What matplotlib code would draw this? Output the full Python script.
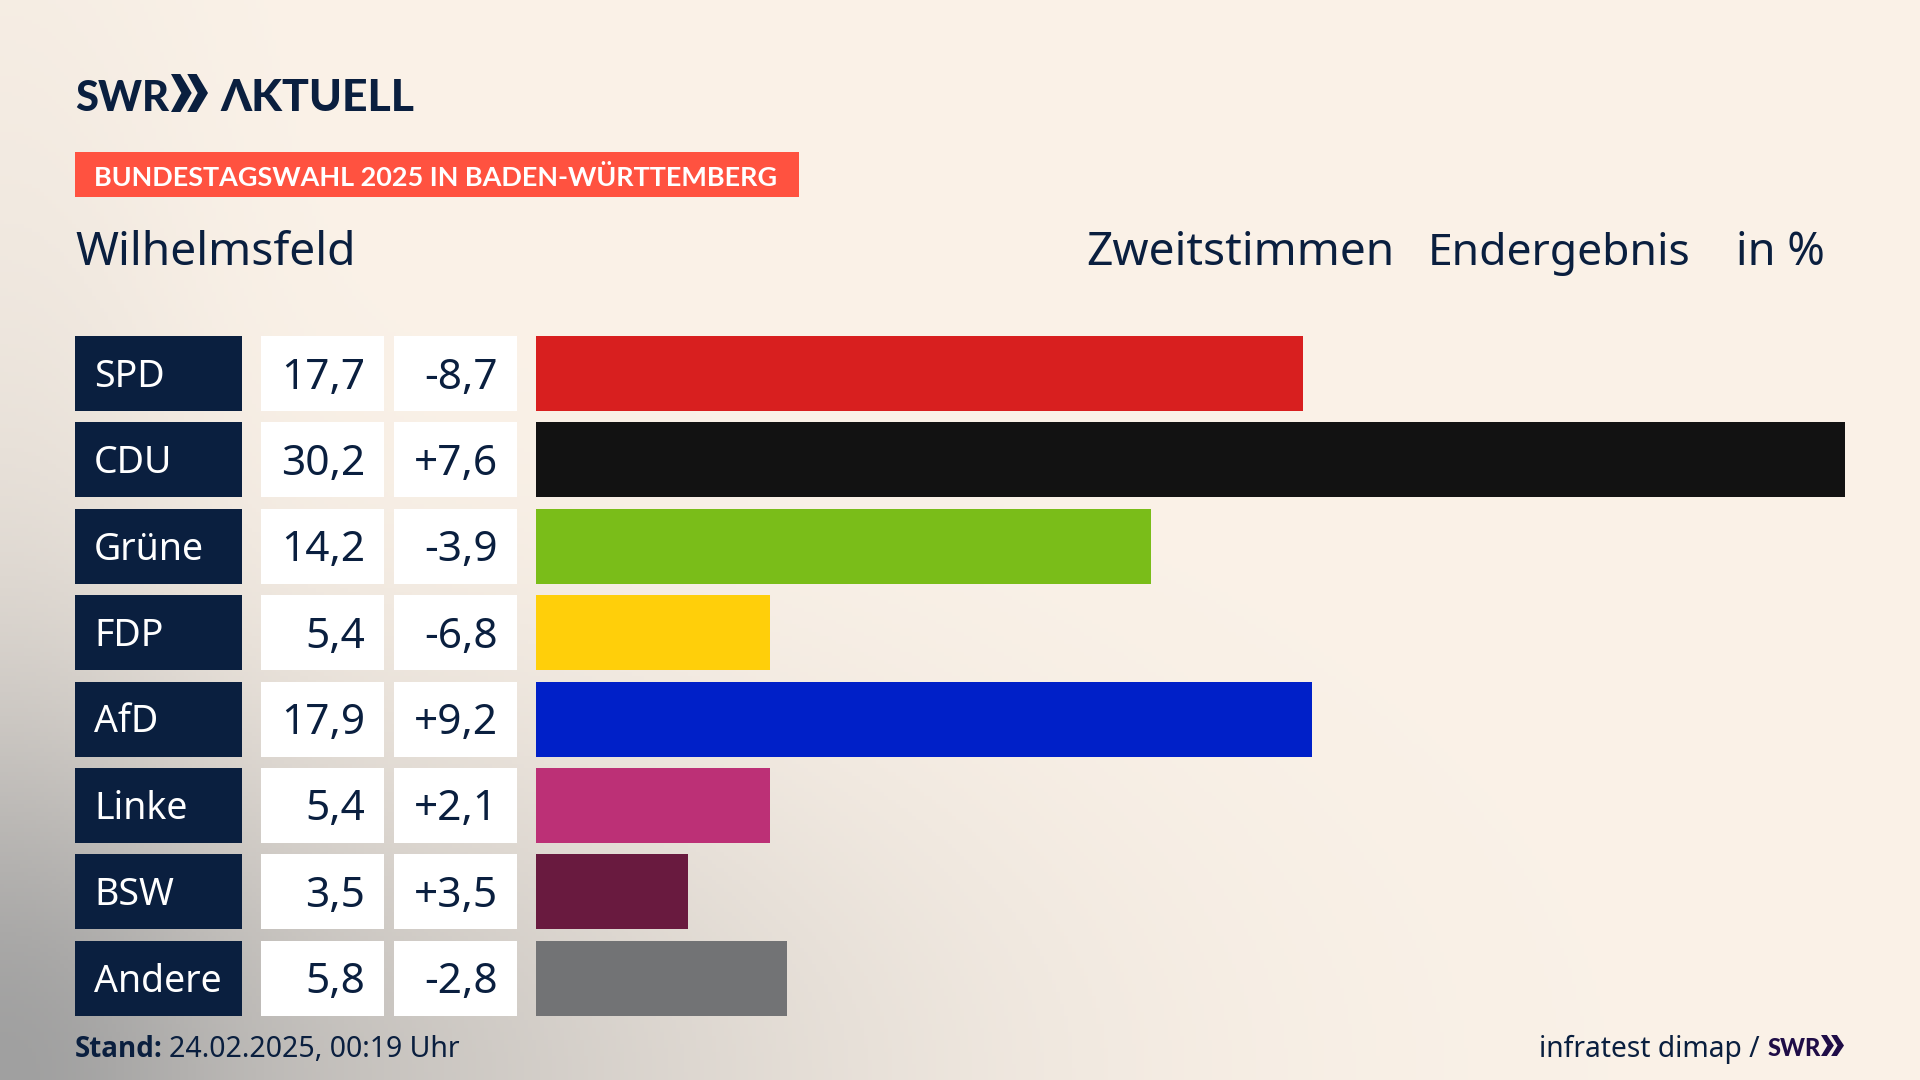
import numpy as np
import matplotlib
matplotlib.use('Agg')
import matplotlib.pyplot as plt
from matplotlib.patches import Rectangle, Polygon

# Данные
parties = ['SPD', 'CDU', 'Grüne', 'FDP', 'AfD', 'Linke', 'BSW', 'Andere']
shares = [17.7, 30.2, 14.2, 5.4, 17.9, 5.4, 3.5, 5.8]
changes = ['-8,7', '+7,6', '-3,9', '-6,8', '+9,2', '+2,1', '+3,5', '-2,8']
colors = ['#D81F1F', '#121212', '#7ABD19', '#FFCF0A', '#0020C8', '#BC3076', '#691A3F', '#727375']

NAVY = '#0A1F3F'
FONT = 'Noto Sans'
HEAVY = 'Lato'

W, H = 1920, 1080
row_top, row_pitch, row_h = 336.1, 86.35, 75.0

fig = plt.figure(figsize=(W / 100, H / 100), dpi=100)

# Фон: кремовый с серым углом снизу слева
bg_ax = fig.add_axes([0, 0, 1, 1])
yy, xx = np.mgrid[0:H:270j, 0:W:480j]
d1 = np.sqrt((xx / 900) ** 2 + ((H - yy) / 420) ** 2)
d2 = np.sqrt((xx / 240) ** 2 + ((H - yy) / 1000) ** 2)
t = np.clip(0.7 * np.exp(-d1 ** 2 * 1.3) + 0.3 * np.exp(-d2 ** 2 * 1.4), 0, 1)[..., None]
cream = np.array([251, 242, 232]) / 255
grey = np.array([160, 160, 160]) / 255
bg_ax.imshow(cream * (1 - t) + grey * t, extent=[0, W, H, 0], aspect='auto')
bg_ax.set_xlim(0, W)
bg_ax.set_ylim(H, 0)
bg_ax.axis('off')

# Столбцы
bar_left, bar_right = 536, 1845
bar_top = row_top
bar_bottom = row_top + 7 * row_pitch + row_h
ax = fig.add_axes([bar_left / W, 1 - bar_bottom / H, (bar_right - bar_left) / W, (bar_bottom - bar_top) / H])
ax.patch.set_alpha(0)
h = row_h / row_pitch
ax.barh(range(len(parties)), shares, height=h, color=colors)
ax.set_xlim(0, max(shares))
ax.set_ylim(len(parties) - 1 + h / 2, -h / 2)
ax.axis('off')

# Таблица и подписи в пикселях
ov = fig.add_axes([0, 0, 1, 1])
ov.patch.set_alpha(0)
ov.set_xlim(0, W)
ov.set_ylim(H, 0)
ov.axis('off')

for i, party in enumerate(parties):
    top = row_top + i * row_pitch
    mid = top + row_h / 2
    ov.add_patch(Rectangle((75, top), 167, row_h, color=NAVY, lw=0))
    ov.add_patch(Rectangle((261, top), 123, row_h, color='white', lw=0))
    ov.add_patch(Rectangle((394, top), 123, row_h, color='white', lw=0))
    ov.text(94, mid - 1, party, color='white', fontsize=27, family=FONT, ha='left', va='center_baseline')
    ov.text(365, mid - 1, f'{shares[i]:.1f}'.replace('.', ','), color=NAVY, fontsize=30.5, family=FONT,
            ha='right', va='center_baseline')
    ov.text(498, mid - 1, changes[i], color=NAVY, fontsize=30.5, family=FONT, ha='right', va='center_baseline')

# Логотип
ov.text(75, 111, 'SWR', color=NAVY, fontsize=30, family=HEAVY, weight='black', ha='left', va='baseline')
ov.text(220, 111, 'ΛKTUELL', color=NAVY, fontsize=32, family=['Lato', 'DejaVu Sans'], weight='black',
        ha='left', va='baseline')


def chevrons(x, y, w, hh, color):
    cw = w * 0.56
    for dx in (0, w - cw):
        ov.add_patch(Polygon([(x + dx, y), (x + dx + cw * 0.45, y), (x + dx + cw, y + hh / 2),
                              (x + dx + cw * 0.45, y + hh), (x + dx, y + hh), (x + dx + cw * 0.5, y + hh / 2)],
                             closed=True, color=color, lw=0))


chevrons(171, 74, 37, 38, NAVY)

# Плашка
ov.add_patch(Rectangle((75, 152), 724, 45, color='#FF5240', lw=0))
ov.text(94, 175, 'BUNDESTAGSWAHL 2025 IN BADEN-WÜRTTEMBERG', color='white', fontsize=19.45, family=HEAVY,
        weight='bold', ha='left', va='center_baseline')

# Заголовки
ov.text(75, 265, 'Wilhelmsfeld', color=NAVY, fontsize=33.3, family=FONT, ha='left', va='baseline')
ov.text(1395, 265, 'Zweitstimmen', color=NAVY, fontsize=33.2, family=FONT, ha='right', va='baseline')
ov.text(1690, 265, 'Endergebnis', color=NAVY, fontsize=32, family=FONT, ha='right', va='baseline')
ov.text(1825, 265, 'in %', color=NAVY, fontsize=32.5, family=FONT, ha='right', va='baseline')

# Подвал
ov.text(75, 1057, 'Stand:', color=NAVY, fontsize=20, family='Open Sans', weight='bold', ha='left', va='baseline')
ov.text(169, 1057, '24.02.2025, 00:19 Uhr', color=NAVY, fontsize=20.5, family=FONT, ha='left', va='baseline')
ov.text(1760, 1057, 'infratest dimap /', color=NAVY, fontsize=20.3, family=FONT, ha='right', va='baseline')
ov.text(1768, 1056, 'SWR', color='#1F0D47', fontsize=17, family=HEAVY, weight='black', ha='left', va='baseline')
chevrons(1821, 1035, 23, 21, '#1F0D47')

fig.savefig('out.png', dpi=100)
